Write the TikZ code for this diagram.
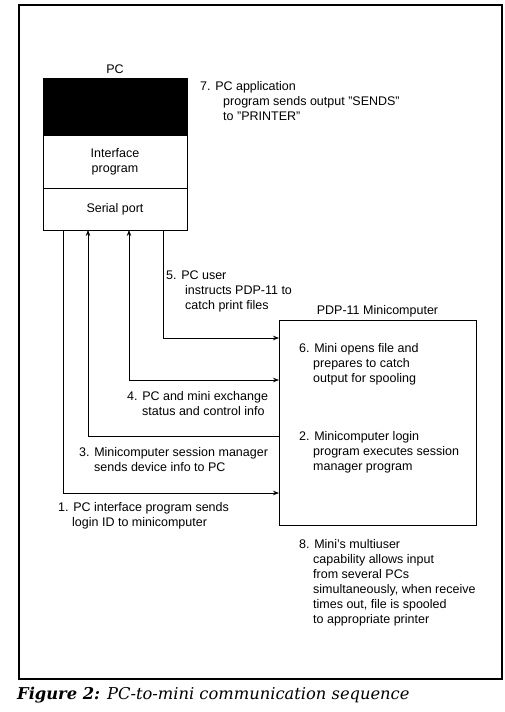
\documentclass[tikz,border=0pt]{standalone}
\usepackage{fontspec}
\setmainfont{Liberation Sans}
\newfontfamily\capfont{DejaVu Serif}
\usepackage{tikz}
\usetikzlibrary{arrows.meta, positioning}
\tikzset{
	frame/.style={
		draw=black,
		line width=1.6pt
	},
	pcblack/.style={
		rectangle,
		minimum width=144pt,
		minimum height=57pt,
		draw=black,
		fill=black,
		outer sep=0pt
	},
	pcpart/.style={
		rectangle,
		minimum width=144pt,
		text centered,
		align=center,
		draw=black,
		line width=0.8pt,
		outer sep=0pt,
		font=\fontsize{12.5}{15}\selectfont
	},
	minibox/.style={
		rectangle,
		minimum width=197pt,
		minimum height=205pt,
		draw=black,
		line width=0.8pt,
		outer sep=0pt
	},
	title/.style={
		inner sep=0pt,
		font=\fontsize{12.5}{15}\selectfont
	},
	note/.style={
		anchor=north west,
		align=left,
		inner sep=0pt,
		font=\fontsize{12.5}{15}\selectfont
	},
	link/.style={line width=0.7pt,>={Stealth[length=6pt,width=4.5pt]}}
}

\begin{document}
\begin{tikzpicture}[x=1pt, y=-1pt]
				\useasboundingbox (0,0) rectangle (504,712);
				\draw [frame] (19,5) rectangle (502,679);
				
				% PC side
				\node (pctop) [pcblack] at (115,106.5) {};
				\node (iface) [pcpart, minimum height=53pt, below=0pt of pctop] {Interface\\program};
				\node (port) [pcpart, minimum height=42pt, below=0pt of iface] {Serial port};
				\node (pclabel) [title, above=4pt of pctop] {PC};
				
				% minicomputer side
				\node (mini) [minibox] at (377.5,422.5) {};
				\node (minilabel) [title, above=3pt of mini] {PDP-11 Minicomputer};
				
				\coordinate (c1) at (63,493);
				\coordinate (c3) at (88,436);
				\coordinate (c4) at (129,380);
				\coordinate (c5) at (163,338);
				
				\draw [link,->] (c1 |- port.south) |- (c1 -| mini.west);
				\draw [link,->] (c3 -| mini.west) -| (c3 |- port.south);
				\draw [link,<->] (c4 |- port.south) |- (c4 -| mini.west);
				\draw [link,->] (c5 |- port.south) |- (c5 -| mini.west);
				
				% step texts
				\node (t7) [note] at (200,81.5) {7. PC application\\\hspace*{23pt}program sends output "SENDS"\\\hspace*{23pt}to "PRINTER"};
				\node (t5) [note] at (166,270.5) {5. PC user\\\hspace*{19pt}instructs PDP-11 to\\\hspace*{19pt}catch print files};
				\node (t6) [note] at (299,343.5) {6. Mini opens file and\\\hspace*{14pt}prepares to catch\\\hspace*{14pt}output for spooling};
				\node (t4) [note] at (127,391.5) {4. PC and mini exchange\\\hspace*{15pt}status and control info};
				\node (t2) [note] at (299,431.5) {2. Minicomputer login\\\hspace*{14pt}program executes session\\\hspace*{14pt}manager program};
				\node (t3) [note] at (79,447.5) {3. Minicomputer session manager\\\hspace*{15pt}sends device info to PC};
				\node (t1) [note] at (58,502.5) {1. PC interface program sends\\\hspace*{14pt}login ID to minicomputer};
				\node (t8) [note] at (299,539.5) {8. Mini's multiuser\\\hspace*{14pt}capability allows input\\\hspace*{14pt}from several PCs\\\hspace*{14pt}simultaneously, when receive\\\hspace*{14pt}times out, file is spooled\\\hspace*{14pt}to appropriate printer};
				
				\node (caption) [anchor=base west, inner sep=0pt, font=\capfont\fontsize{16.3}{19}\selectfont] at (17,699) {\textbf{\textit{Figure 2:}} \textit{PC-to-mini communication sequence}};
			\end{tikzpicture}
\end{document}
